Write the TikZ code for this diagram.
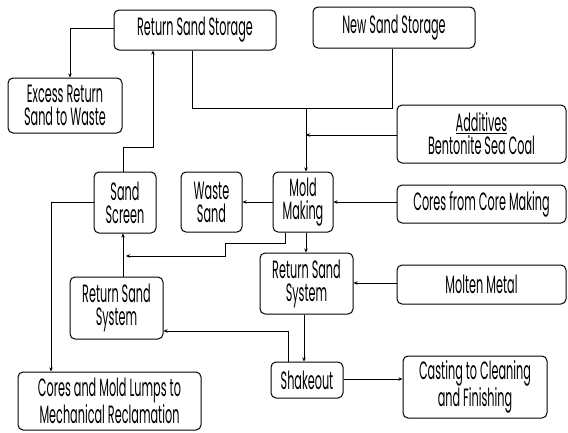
\documentclass[tikz,border=0pt]{standalone}
\usepackage{fontspec}
\setmainfont{Poppins}[FakeStretch=0.45]
\usetikzlibrary{arrows.meta}
\begin{document}
\begin{tikzpicture}[x=1pt,y=-1pt,
  box/.style={draw, line width=1pt, rounded corners=5pt, align=center, inner sep=0pt, font=\fontsize{25}{23}\selectfont},
  conn/.style={line width=1pt},
  arr/.style={conn, -{Stealth[length=4pt,width=3.5pt]}}]
\useasboundingbox (0,0) rectangle (568,432);
\node[box, minimum width=162pt, minimum height=40pt] (rss) at (195,30) {Return Sand Storage};
\node[box, minimum width=162pt, minimum height=41pt] (nss) at (394,27.5) {New Sand Storage};
\node[box, minimum width=114pt, minimum height=55pt] (exc) at (65,105.5) {Excess Return\\Sand to Waste};
\node[box, minimum width=169pt, minimum height=58pt] (add) at (481.5,134) {\underline{Additives}\\Bentonite Sea Coal};
\node[box, minimum width=62pt, minimum height=61pt] (scr) at (125,202.5) {Sand\\Screen};
\node[box, minimum width=61pt, minimum height=60pt] (ws) at (211.5,202) {Waste\\Sand};
\node[box, minimum width=60pt, minimum height=60pt] (mm) at (303,202) {Mold\\Making};
\node[box, minimum width=169pt, minimum height=38pt] (cores) at (481.5,204) {Cores from Core Making};
\node[box, minimum width=93pt, minimum height=61pt] (rsr) at (306.5,283.5) {Return Sand\\System};
\node[box, minimum width=169pt, minimum height=39pt] (molt) at (481.5,284.5) {Molten Metal};
\node[box, minimum width=93pt, minimum height=62pt] (rsl) at (116.5,308) {Return Sand\\System};
\node[box, minimum width=72pt, minimum height=36pt] (shk) at (307,380) {Shakeout};
\node[box, minimum width=144pt, minimum height=62pt] (cast) at (475,387) {Casting to Cleaning\\and Finishing};
\node[box, minimum width=183pt, minimum height=58pt] (lumps) at (109.5,401) {Cores and Mold Lumps to\\Mechanical Reclamation};
\coordinate (j1) at (306,108);
\coordinate (j2) at (306,135);
% connectors
\draw[arr] (rss.west |- 0,28) -| (70,0 |- exc.north);
\draw[conn] (192,0 |- rss.south) -- (192,108) -- (392,108) -- (392,0 |- nss.south);
\draw[arr] (j1) -- (j1 |- mm.north);
\draw[arr] (add.west |- j2) -- (j2);
\draw[arr] (123,0 |- scr.north) -- (123,147) -- (153,147) -- (153,0 |- rss.south);
\draw[arr] (mm.west) -- (ws.east);
\draw[arr] (cores.west |- mm.east) -- (mm.east);
\draw[arr] (scr.west) -| (51,0 |- lumps.north);
\draw[arr] (285,0 |- mm.south) -- (285,243) -- (225,243) -- (225,256) -- (126,256);
\draw[arr] (306,0 |- mm.south) -- (306,0 |- rsr.north);
\draw[arr] (molt.west |- 0,283) -- (rsr.east |- 0,283);
\draw[arr] (304,0 |- rsr.south) -- (304,0 |- shk.north);
\draw[arr] (288,0 |- shk.north) -- (288,331) -- (rsl.east |- 0,331);
\draw[arr] (shk.east |- 0,379) -- (cast.west |- 0,379);
\draw[arr] (123,0 |- rsl.north) -- (123,0 |- scr.south);
\end{tikzpicture}
\end{document}
